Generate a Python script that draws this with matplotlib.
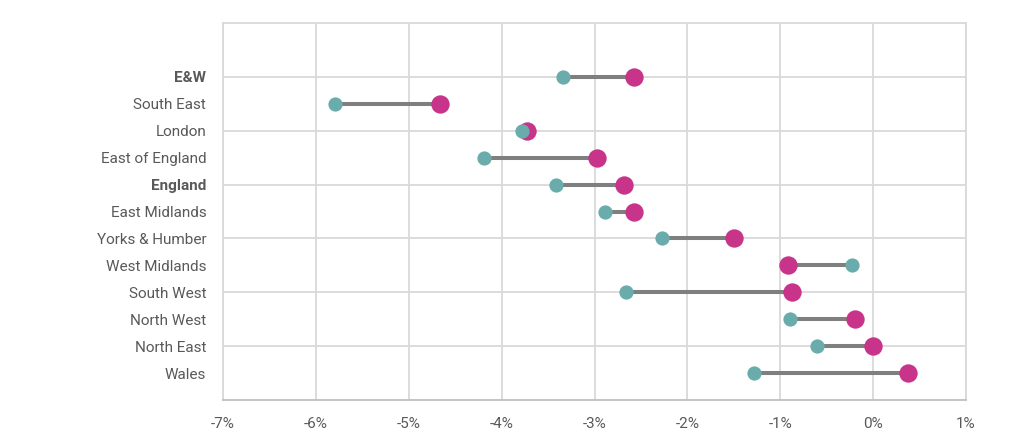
import matplotlib
matplotlib.use("Agg")
import matplotlib.pyplot as plt

regions = ["E&W", "South East", "London", "East of England", "England",
           "East Midlands", "Yorks & Humber", "West Midlands", "South West",
           "North West", "North East", "Wales"]
bold_regions = ["E&W", "England"]
teal_vals = [-3.34, -5.79, -3.78, -4.19, -3.41, -2.89, -2.27, -0.23, -2.66, -0.90, -0.60, -1.28]
pink_vals = [-2.57, -4.66, -3.73, -2.97, -2.68, -2.57, -1.50, -0.92, -0.87, -0.19, 0.00, 0.38]
x_ticks = [-7, -6, -5, -4, -3, -2, -1, 0, 1]
x_tick_labels = ["-7%", "-6%", "-5%", "-4%", "-3%", "-2%", "-1%", "0%", "1%"]

plt.rcParams['font.family'] = ['Roboto', 'DejaVu Sans']

fig = plt.figure(figsize=(10.23, 4.46), dpi=100)
ax = fig.add_axes([223/1023, 46/446, (966-223)/1023, (400-23)/446])

n = len(regions)
ypos = [n - i for i in range(n)]

for y, t, p in zip(ypos, teal_vals, pink_vals):
    ax.plot([t, p], [y, y], color="#7f7f7f", lw=2.9, zorder=2, solid_capstyle='butt')
ax.scatter(pink_vals, ypos, s=175, color="#c8348a", zorder=3, linewidths=0)
ax.scatter(teal_vals, ypos, s=105, color="#6aabab", zorder=4, linewidths=0)

ax.set_xlim(-7, 1)
ax.set_ylim(0, 14)
ax.set_xticks(x_ticks)
ax.set_xticklabels(x_tick_labels)
ax.set_yticks(ypos)
ax.set_yticklabels(regions)
for lbl in ax.get_yticklabels():
    if lbl.get_text() in bold_regions:
        lbl.set_fontweight('bold')
        lbl.set_color("#404040")

ax.grid(True, axis='x', color="#d9d9d9", lw=1.3, zorder=0)
for gy in range(2, 14, 2):
    ax.axhline(gy, color="#d9d9d9", lw=1.3, zorder=0)
ax.set_axisbelow(True)
ax.tick_params(axis='both', length=0, colors="#595959", labelsize=11)
ax.tick_params(axis='x', pad=12)
ax.tick_params(axis='y', pad=12)

for side in ['left', 'top', 'right']:
    ax.spines[side].set_color("#d9d9d9")
    ax.spines[side].set_linewidth(1.3)
ax.spines['bottom'].set_color("#bfbfbf")
ax.spines['bottom'].set_linewidth(1.3)

fig.savefig("out.png", dpi=100)
